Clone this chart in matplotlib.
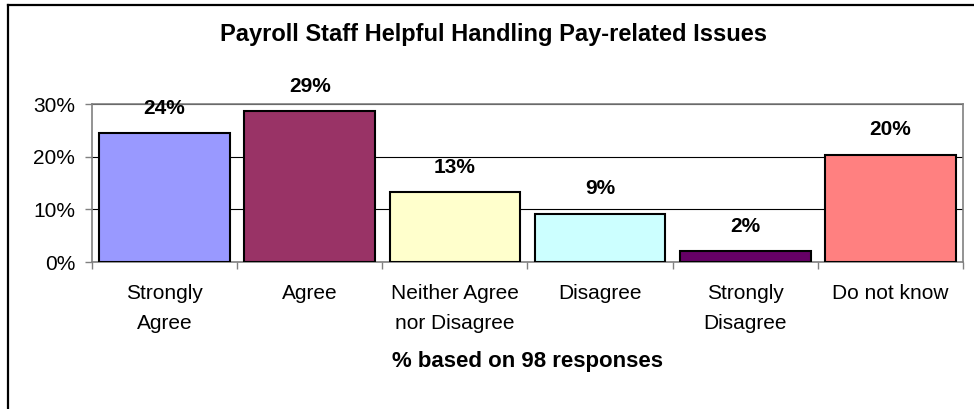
import matplotlib.pyplot as plt
from matplotlib.lines import Line2D

categories = ['Strongly\nAgree', 'Agree', 'Neither Agree\nnor Disagree', 'Disagree',
              'Strongly\nDisagree', 'Do not know']
values = [24.5, 28.6, 13.3, 9.2, 2.0, 20.4]
value_labels = ['24%', '29%', '13%', '9%', '2%', '20%']
colors = ['#9999FF', '#993366', '#FFFFCC', '#CCFFFF', '#660066', '#FF8080']
y_ticks = [0, 10, 20, 30]

plt.rcParams['font.family'] = ['Liberation Sans', 'DejaVu Sans']

fig = plt.figure(figsize=(9.74, 4.09), dpi=100)
ax = fig.add_axes([92 / 974, 1 - 262 / 409, (963 - 92) / 974, (262 - 104) / 409])

x = list(range(len(categories)))
ax.bar(x, values, width=0.9, color=colors, edgecolor='black', linewidth=1.5, zorder=3)

for xi, v, lab in zip(x, values, value_labels):
    ax.annotate(lab, (xi, v), xytext=(0, 14), textcoords='offset points',
                ha='center', va='baseline', fontsize=15, fontweight='bold')

ax.set_xlim(-0.5, len(categories) - 0.5)
ax.set_ylim(0, 30)
ax.set_yticks(y_ticks)
ax.set_yticklabels([f'{t}%' for t in y_ticks], fontsize=15)
ax.yaxis.grid(True, color='black', linewidth=0.8, zorder=0)

ax.set_xticks(x)
ax.set_xticklabels(categories, fontsize=15, linespacing=1.7)
ax.set_xticks([i - 0.5 for i in range(len(categories) + 1)], minor=True)
ax.tick_params(axis='x', which='major', length=0, pad=16)
ax.tick_params(axis='x', which='minor', length=5, color='#808080', width=1)
ax.tick_params(axis='y', length=5, color='#808080', width=1, pad=7)

for s in ax.spines.values():
    s.set_color('#808080')
    s.set_linewidth(1.2)

fig.text(493 / 974, 1 - 35 / 409, 'Payroll Staff Helpful Handling Pay-related Issues',
         ha='center', va='center', fontsize=17, fontweight='bold')
fig.text(527 / 974, 1 - 361 / 409, '% based on 98 responses',
         ha='center', va='center', fontsize=16, fontweight='bold')

# outer chart frame (only top and left are visible in the reference)
fig.add_artist(Line2D([7.5 / 974, 7.5 / 974], [0, 1 - 4.5 / 409], transform=fig.transFigure,
                      color='black', linewidth=1.6))
fig.add_artist(Line2D([7.5 / 974, 1], [1 - 4.5 / 409, 1 - 4.5 / 409], transform=fig.transFigure,
                      color='black', linewidth=1.6))

fig.savefig('out.png', dpi=100)
